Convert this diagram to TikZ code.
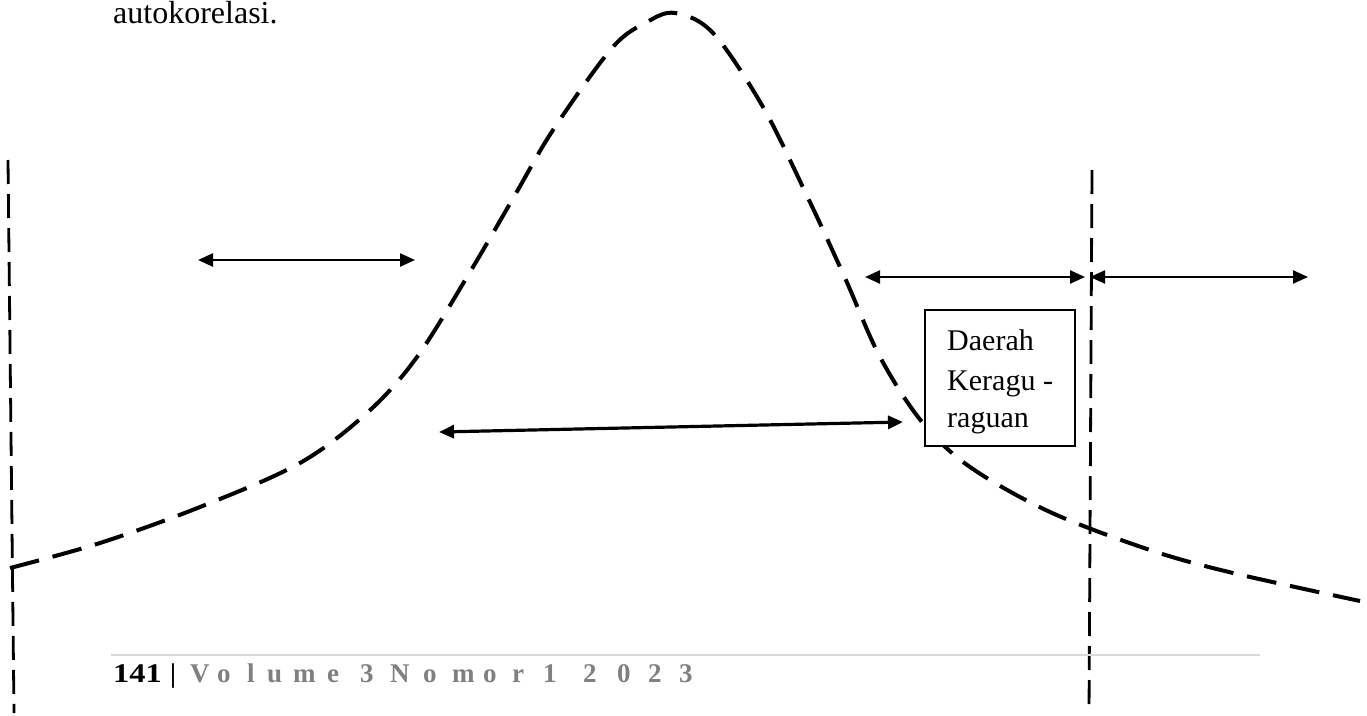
\documentclass[tikz,border=0pt]{standalone}
\usepackage{fontspec}
\setmainfont{Liberation Serif}
\usetikzlibrary{arrows.meta}
\definecolor{footgray}{HTML}{808080}
\definecolor{linegray}{HTML}{D9D9D9}
\begin{document}
\begin{tikzpicture}[x=1pt,y=-1pt,
  curvedash/.style={line width=4pt, dash pattern=on 30pt off 14pt},
  vdash/.style={line width=2.8pt, dash pattern=on 24pt off 10pt},
  dbl/.style={line width=2.4pt, {Triangle[length=15pt,width=13pt]}-{Triangle[length=15pt,width=13pt]}},
  dblthick/.style={line width=3.2pt, {Triangle[length=15pt,width=13pt]}-{Triangle[length=15pt,width=13pt]}},
  boxstyle/.style={draw, line width=1.5pt, fill=white, minimum width=150pt, minimum height=136pt, inner sep=0pt, anchor=north west},
  boxtext/.style={font=\fontsize{30}{38}\selectfont, anchor=base west, inner sep=0pt},
  foot/.style={font=\bfseries\fontsize{27}{32}\selectfont, text=footgray, inner sep=0pt},
  footblack/.style={font=\bfseries\fontsize{27}{32}\selectfont, text=black, inner sep=0pt}
]
\useasboundingbox (0,0) rectangle (1367,715);

% top text
\node[font=\fontsize{32}{38}\selectfont, anchor=base west, inner sep=0pt] (top) at (113,23) {autokorelasi.};

% vertical dashed lines
\coordinate (L1) at (8,160);
\coordinate (L2) at (14,713);
\coordinate (R1) at (1092,170);
\coordinate (R2) at (1089,713);
\draw[vdash] (L1) -- (L2);
\draw[vdash] (R1) -- (R2);

% bell curve
\draw[curvedash] plot[smooth, tension=0.55] coordinates {
 (10,568) (100,543) (200,507) (300,463) (368,412) (417,357) (470,272)
 (515,195) (553,130) (612,48) (647,22) (675,13) (713,33) (763,107)
 (808,198) (845,278) (880,357) (922,422) (970,467) (1050,512)
 (1150,550) (1233,573) (1360,601)};

% arrows
\coordinate (a1) at (198,260);
\coordinate (a2) at (415,260);
\coordinate (b1) at (865,277);
\coordinate (b2) at (1085,277);
\coordinate (c1) at (1090,277);
\coordinate (c2) at (1308,277);
\coordinate (d1) at (439,432);
\coordinate (d2) at (903,422);
\draw[dbl] (a1) -- (a2);
\draw[dbl] (b1) -- (b2);
\draw[dbl] (c1) -- (c2);
\draw[dblthick] (d1) -- (d2);

% box
\node[boxstyle] (box) at (924,309) {};
\node[boxtext] (t1) at (947,350) {Daerah};
\node[boxtext] (t2) at (947,390) {Keragu -};
\node[boxtext] (t3) at (947,427) {raguan};

% footer
\coordinate (g1) at (111,655);
\coordinate (g2) at (1260,655);
\draw[linegray, line width=2.5pt] (g1) -- (g2);
\node[footblack, anchor=base west] (num) at (113,682) {\scalebox{1.2}[1]{141}};
\node[footblack, anchor=base west] (bar) at (170,682) {|};
\foreach \c/\xx [count=\i] in {V/190,o/217,l/247,u/267,m/293,e/327,3/360,N/390,o/423,m/452,o/483,r/512,1/543,2/583,0/617,2/648,3/679}
  \node[foot, anchor=base west] (f\i) at (\xx,682) {\c};
\end{tikzpicture}
\end{document}
